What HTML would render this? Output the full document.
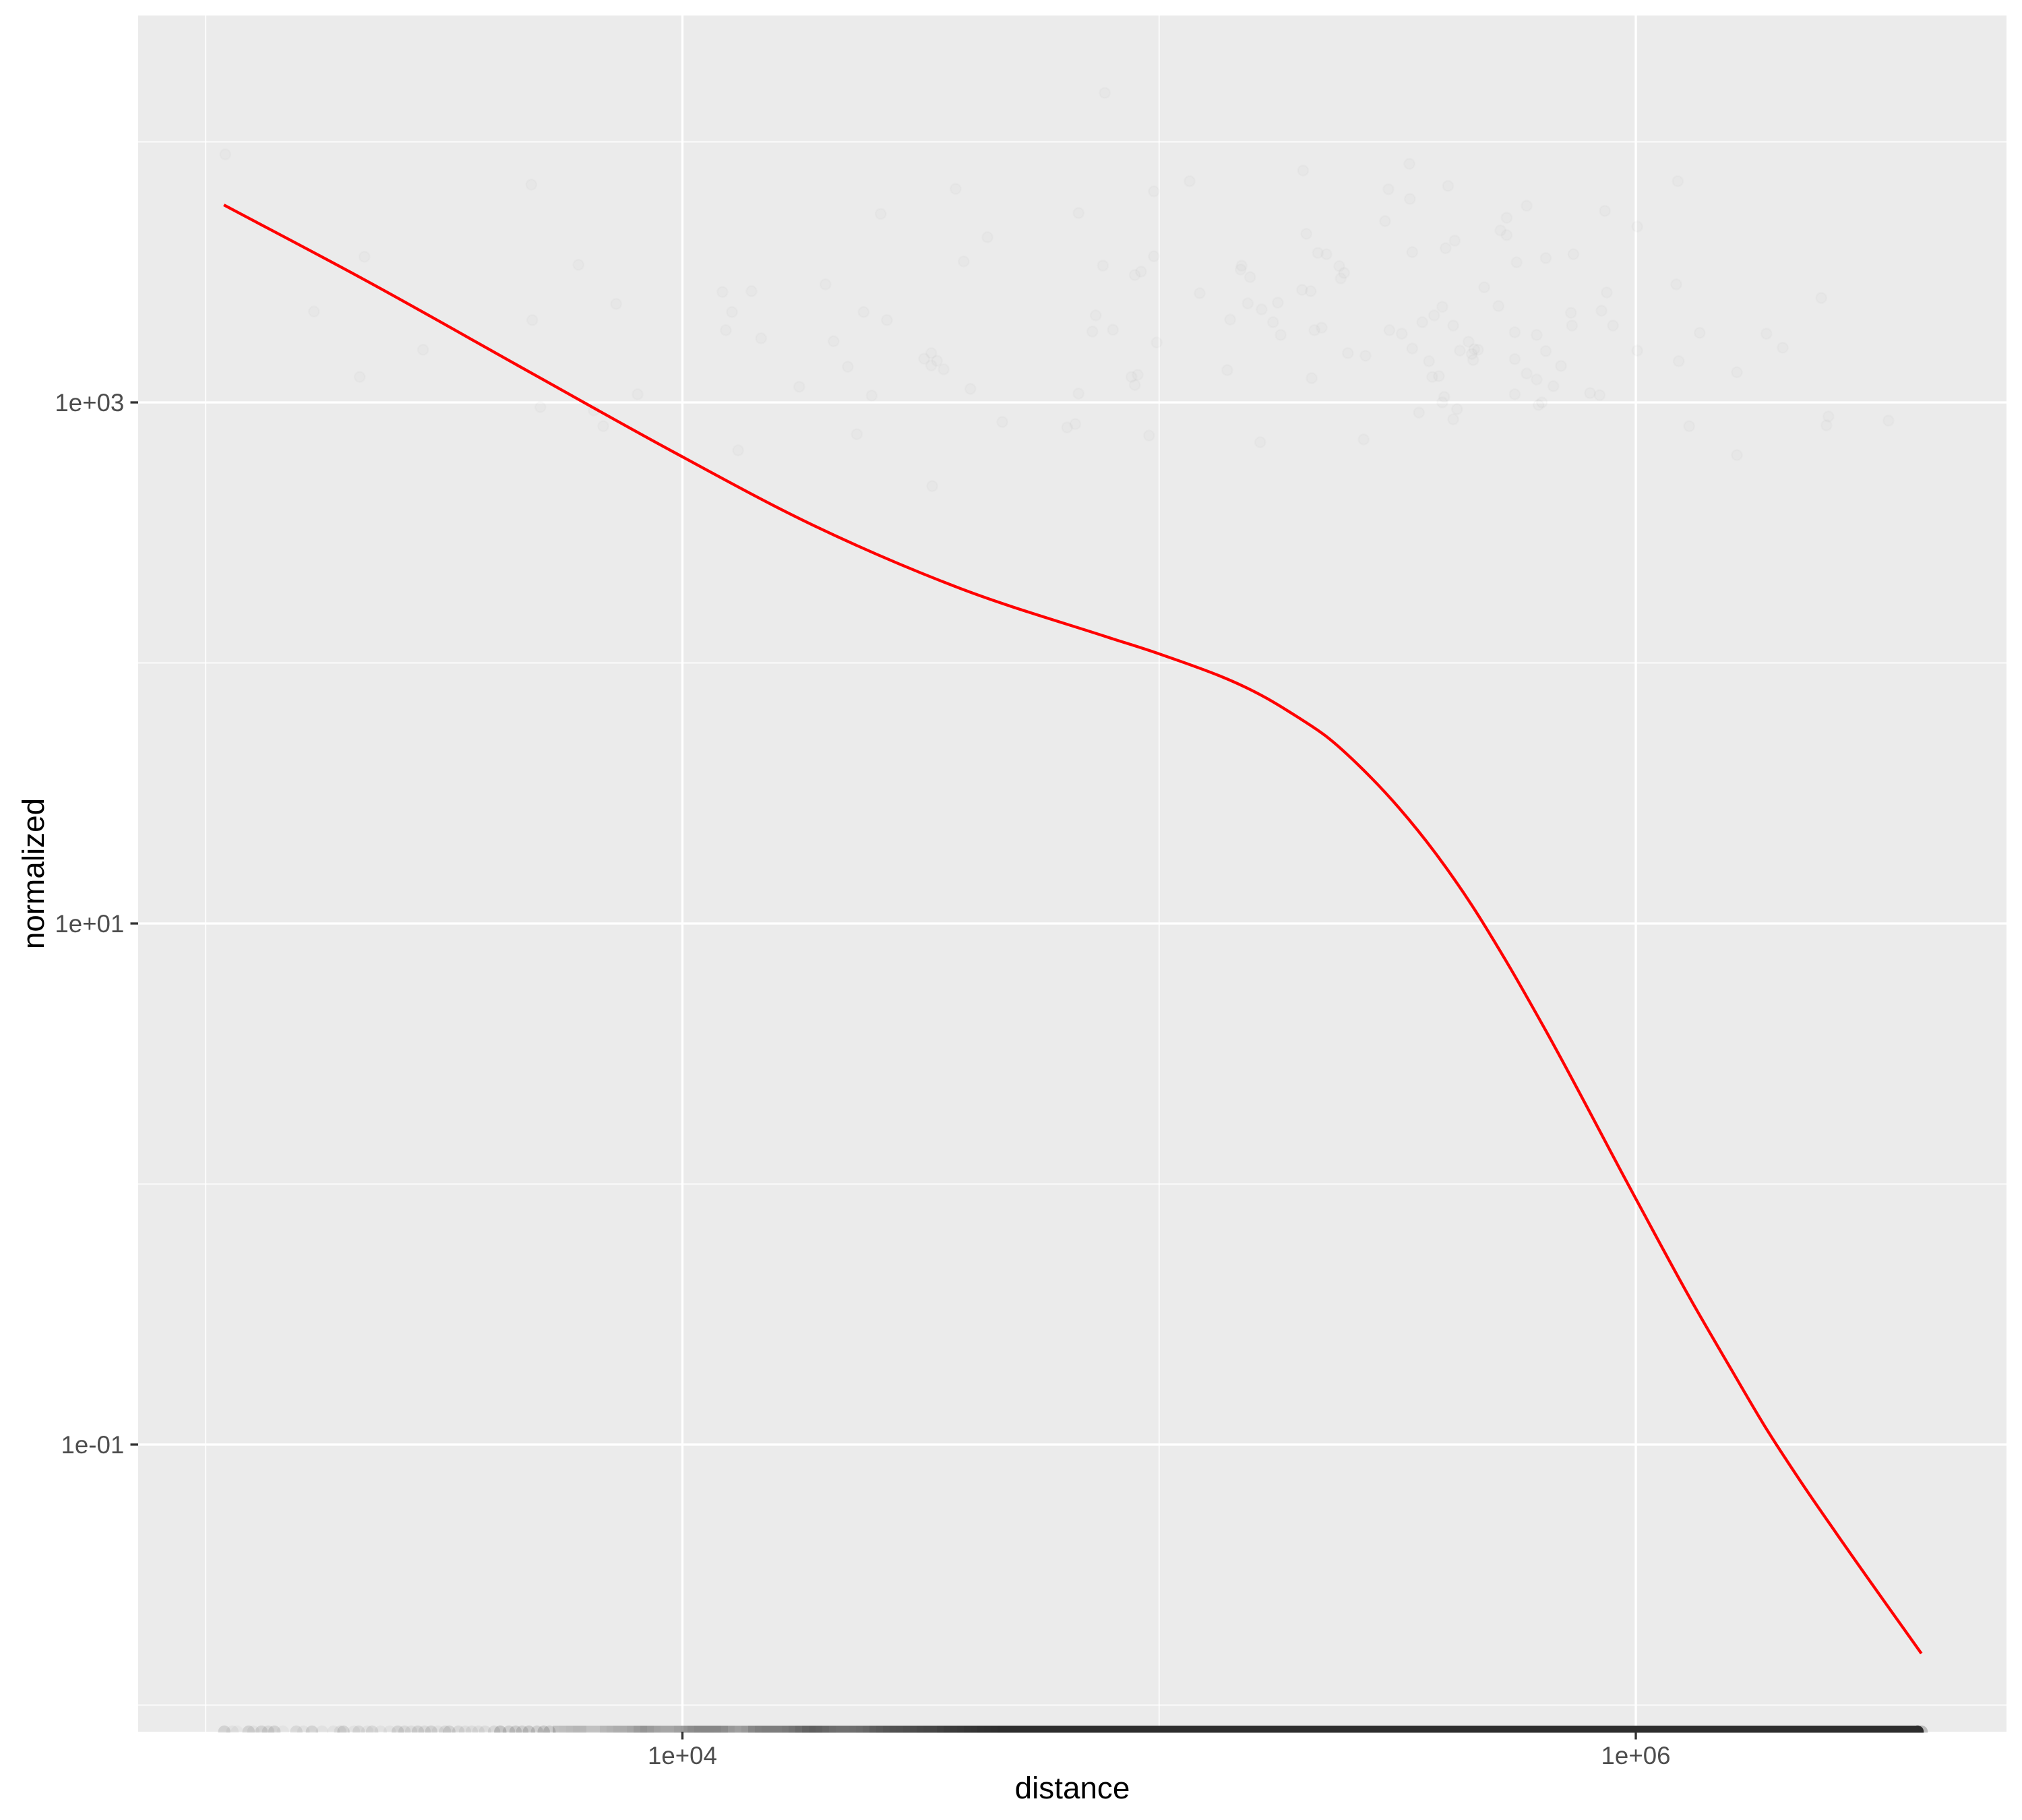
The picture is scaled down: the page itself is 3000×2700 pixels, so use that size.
<!DOCTYPE html>
<html lang="en">
<head>
<meta charset="utf-8">
<title>normalized vs distance</title>
<style>
html,body{margin:0;padding:0;background:#fff;}
svg{display:block;}
text{font-family:"Liberation Sans",Arial,sans-serif;}
</style>
</head>
<body>
<svg id="chart" xmlns="http://www.w3.org/2000/svg" width="3000" height="2700" viewBox="0 0 3000 2700">
  <rect x="0" y="0" width="3000" height="2700" fill="#ffffff"/>
  <defs>
    <clipPath id="panel-clip"><rect x="205" y="23" width="2772" height="2547.5"/></clipPath>
  </defs>
  <rect x="205" y="23" width="2772" height="2546" fill="#ebebeb"/>
  <g id="grid"></g>
  <g id="marks" clip-path="url(#panel-clip)"></g>
  <g id="axes"></g>
  <text x="1591" y="2668" text-anchor="middle" font-size="45.83" fill="#000">distance</text>
  <text transform="translate(65 1296) rotate(-90)" text-anchor="middle" font-size="45.83" fill="#000">normalized</text>
</svg>
<script>
// All values are log10 of the data value (the plot uses log10 axes).
const xTickValues = [4, 6];
const xTickLabels = ['1e+04', '1e+06'];
const xMinorValues = [3, 5];
const yTickValues = [3, 1, -1];
const yTickLabels = ['1e+03', '1e+01', '1e-01'];
const yMinorValues = [4, 2, 0, -2];

const scatterDistance = [
3.041,3.683,3.333,3.782,3.861,3.227,3.685,3.456,3.323,3.906,3.702,3.814,3.834,
4.886,5.302,5.064,4.573,4.989,4.416,4.831,4.640,5.309,5.333,5.351,4.590,4.989,4.882,4.962,4.949,5.173,5.171,5.191,5.378,5.388,5.381,
4.300,4.084,4.145,5.085,5.300,5.318,4.104,4.380,4.429,5.186,5.215,5.249,4.867,5.149,5.239,4.091,4.165,4.317,4.860,4.903,5.326,5.341,5.255,4.995,5.396,
4.522,4.507,4.534,4.522,4.548,4.347,5.143,4.942,4.955,4.949,5.320,4.245,4.604,4.397,4.831,4.671,4.824,4.807,4.366,4.979,5.212,4.117,4.524,
5.525,6.088,5.481,5.606,5.526,5.771,5.935,5.474,5.729,5.716,5.729,6.003,5.620,5.601,5.531,5.811,5.869,5.750,5.682,5.939,6.085,6.389,5.594,5.712,5.577,5.864,5.928,
5.552,5.617,5.483,5.509,5.866,5.952,5.746,5.792,6.134,6.274,5.649,5.531,5.631,5.661,5.669,5.811,6.003,6.308,5.433,5.656,5.566,5.659,5.746,6.090,5.843,5.771,6.212,
5.573,5.587,5.792,5.827,5.598,5.746,5.904,5.924,5.594,5.803,5.796,5.625,5.545,5.617,6.112,6.404,6.400,6.530,5.429,6.212
];
const scatterNormalized = [
3.952,3.836,3.559,3.528,3.378,3.349,3.316,3.202,3.098,3.031,2.982,2.969,2.909,
4.188,3.890,3.849,3.820,3.810,3.724,3.727,3.634,3.647,3.574,3.569,3.541,3.561,3.525,3.502,3.489,3.525,3.510,3.481,3.523,3.497,3.476,
3.453,3.424,3.427,3.419,3.432,3.427,3.347,3.347,3.316,3.380,3.357,3.383,3.334,3.318,3.308,3.277,3.246,3.235,3.272,3.279,3.277,3.287,3.259,3.230,3.189,
3.189,3.168,3.160,3.142,3.127,3.137,3.124,3.098,3.106,3.067,3.093,3.060,3.052,3.026,3.034,2.925,2.917,2.904,2.878,2.873,2.847,2.816,2.679,
3.916,3.849,3.818,3.831,3.781,3.755,3.735,3.696,3.709,3.660,3.642,3.675,3.621,3.592,3.577,3.554,3.569,3.538,3.442,3.422,3.453,3.401,3.367,3.370,3.334,3.344,3.352,
3.308,3.295,3.277,3.264,3.295,3.295,3.269,3.259,3.267,3.264,3.233,3.207,3.199,3.204,3.202,3.197,3.199,3.210,3.179,3.186,3.158,3.163,3.166,3.158,3.140,3.111,3.116,
3.098,3.101,3.088,3.062,3.021,3.031,3.036,3.028,3.000,3.000,2.990,2.974,2.961,2.935,2.909,2.946,2.912,2.930,2.858,2.798
];

// Points whose normalized value is zero sit on the panel's lower edge (log10(0) = -Inf).
// Sparse part of that band: individual points.
const zeroDistance = [
3.039,3.056,3.066,3.090,3.100,3.117,3.131,3.144,3.162,3.190,3.205,3.223,3.244,3.268,3.282,3.289,3.311,3.321,3.339,3.349,3.367,3.386,3.403,3.417,3.431,3.445,3.459,3.473,3.487,3.502,3.511,3.530,3.544,3.558,3.572,3.586,3.605,3.618,3.636,3.650,3.664,3.678,3.695,3.709,3.721,
6.591,6.5995
];
const zeroDensity = [
.13,.05,.03,.13,.05,.12,.10,.13,.04,.10,.05,.12,.05,.05,.07,.12,.05,.10,.05,.10,.05,.05,.12,.10,.08,.12,.09,.13,.06,.10,.13,.10,.07,.08,.07,.08,.10,.20,.15,.16,.15,.18,.14,.18,.17,
1,.25
];
// Denser part of the band: overlapping points summarised as distance bins with a darkness share.
const zeroBinDistance = [
3.735,3.749,3.763,3.777,3.791,3.806,3.820,3.834,3.848,3.862,3.876,3.890,3.905,3.919,3.933,3.947,3.961,3.975,3.989,4.004,4.018,4.032,4.046,4.060,4.074,4.088,4.103,4.117,4.131,4.145,4.159,4.173,4.187,4.201,4.216,4.230,4.244,4.258,4.272,4.286,4.300,4.315,4.329,4.343,4.357,4.371,4.385,4.399,4.414,4.428,4.442,4.456,4.470,4.484,4.498,4.513,4.527,4.541,4.555,4.569,4.583,4.597,4.612,4.626,4.640,4.654
];
const zeroBinShade = [
.22,.24,.26,.28,.27,.22,.22,.27,.30,.32,.33,.36,.42,.46,.42,.38,.36,.36,.40,.46,.50,.52,.53,.53,.52,.50,.44,.40,.44,.52,.56,.58,.58,.58,.60,.63,.68,.72,.74,.73,.70,.67,.65,.65,.66,.68,.70,.74,.77,.79,.81,.82,.83,.84,.86,.87,.88,.90,.92,.935,.945,.96,.97,.98,.985,.994
];
const zeroBinHalfWidth = 0.00707;
const zeroSaturatedRange = [4.661, 6.591];

const smoothDistance = [3.038,3.333,3.685,3.982,4.276,4.583,4.890,5.000,5.228,5.289,5.350,5.427,5.504,5.580,5.656,5.733,5.811,5.999,6.116,6.194,6.270,6.346,6.423,6.599];
const smoothNormalized = [3.758,3.471,3.111,2.809,2.527,2.286,2.100,2.035,1.862,1.794,1.719,1.592,1.442,1.269,1.070,0.840,0.589,-0.053,-0.446,-0.692,-0.928,-1.142,-1.347,-1.802];

const NS = 'http://www.w3.org/2000/svg';
const panel = {left: 205, right: 2977, top: 23, bottom: 2569};
const xDomain = [2.8583, 6.7776];
const yDomain = [-2.1022, 4.4851];

function xScale(v) {
  return panel.left + (v - xDomain[0]) / (xDomain[1] - xDomain[0]) * (panel.right - panel.left);
}
function yScale(v) {
  return panel.bottom - (v - yDomain[0]) / (yDomain[1] - yDomain[0]) * (panel.bottom - panel.top);
}
function make(tag, parent, attrs) {
  const el = document.createElementNS(NS, tag);
  for (const k in attrs) el.setAttribute(k, attrs[k]);
  parent.appendChild(el);
  return el;
}

const grid = document.getElementById('grid');
const marks = document.getElementById('marks');
const axes = document.getElementById('axes');

yMinorValues.forEach(function (v) {
  const y = yScale(v);
  const el = make('line', grid, {x1: panel.left, x2: panel.right, y1: y, y2: y, stroke: '#fff', 'stroke-width': 1.67});
  
  
});
xMinorValues.forEach(function (v) {
  const x = xScale(v);
  const el = make('line', grid, {x1: x, x2: x, y1: panel.top, y2: panel.bottom, stroke: '#fff', 'stroke-width': 1.67});
  
  
});
yTickValues.forEach(function (v) {
  const y = yScale(v);
  const el = make('line', grid, {x1: panel.left, x2: panel.right, y1: y, y2: y, stroke: '#fff', 'stroke-width': 3.34});
  
  
});
xTickValues.forEach(function (v) {
  const x = xScale(v);
  const el = make('line', grid, {x1: x, x2: x, y1: panel.top, y2: panel.bottom, stroke: '#fff', 'stroke-width': 3.34});
  
  
});

scatterDistance.forEach(function (d, i) {
  const el = make('circle', marks, {
    cx: xScale(d).toFixed(1), cy: yScale(scatterNormalized[i]).toFixed(1), r: 7.6,
    fill: '#000', 'fill-opacity': 0.014, stroke: '#000', 'stroke-opacity': 0.014, 'stroke-width': 2.5
  });
  
  
});

zeroDistance.forEach(function (d, i) {
  const el = make('circle', marks, {
    cx: xScale(d).toFixed(1), cy: panel.bottom, r: 9.2, fill: '#2d2d2d', 'fill-opacity': zeroDensity[i]
  });
  
  
});

zeroBinDistance.forEach(function (d, i) {
  const x0 = Math.round(xScale(d - zeroBinHalfWidth));
  const next = i + 1 < zeroBinDistance.length ? zeroBinDistance[i + 1] - zeroBinHalfWidth : d + zeroBinHalfWidth;
  const x1 = Math.round(xScale(next));
  const el = make('rect', marks, {
    x: x0, y: 2560, width: x1 - x0, height: 10.5, fill: '#2d2d2d', 'fill-opacity': zeroBinShade[i]
  });
  
  
});

const saturatedBand = make('line', marks, {
  x1: Math.round(xScale(zeroSaturatedRange[0])), x2: xScale(zeroSaturatedRange[1]).toFixed(1),
  y1: 2565.25, y2: 2565.25, stroke: '#2d2d2d', 'stroke-width': 10.5
});



// Smooth cubic Hermite curve through the read values, in screen coordinates.
const curvePts = smoothDistance.map(function (d, i) {
  return [xScale(d), yScale(smoothNormalized[i])];
});
const n = curvePts.length;
const segH = [];
const segS = [];
for (let i = 0; i < n - 1; i++) {
  segH.push(curvePts[i + 1][0] - curvePts[i][0]);
  segS.push((curvePts[i + 1][1] - curvePts[i][1]) / segH[i]);
}
const tangents = [segS[0]];
for (let i = 1; i < n - 1; i++) {
  tangents.push((segH[i - 1] * segS[i] + segH[i] * segS[i - 1]) / (segH[i - 1] + segH[i]));
}
tangents.push(segS[n - 2]);
let curvePath = 'M' + curvePts[0][0].toFixed(1) + ' ' + curvePts[0][1].toFixed(1);
for (let i = 0; i < n - 1; i++) {
  const h = segH[i] / 3;
  curvePath += 'C' + (curvePts[i][0] + h).toFixed(1) + ' ' + (curvePts[i][1] + tangents[i] * h).toFixed(1) + ' ' +
    (curvePts[i + 1][0] - h).toFixed(1) + ' ' + (curvePts[i + 1][1] - tangents[i + 1] * h).toFixed(1) + ' ' +
    curvePts[i + 1][0].toFixed(1) + ' ' + curvePts[i + 1][1].toFixed(1);
}
const curve = make('path', marks, {d: curvePath, fill: 'none', stroke: '#ff0000', 'stroke-width': 4.3});



xTickValues.forEach(function (v, i) {
  const x = xScale(v);
  const tick = make('line', axes, {x1: x, x2: x, y1: panel.bottom, y2: panel.bottom + 11.5, stroke: '#333333', 'stroke-width': 3.34});
  
  
  const label = make('text', axes, {x: x, y: 2617, 'text-anchor': 'middle', 'font-size': 36.67, fill: '#4d4d4d'});
  label.textContent = xTickLabels[i];
  
  
});
yTickValues.forEach(function (v, i) {
  const y = yScale(v);
  const tick = make('line', axes, {x1: panel.left - 11.5, x2: panel.left, y1: y, y2: y, stroke: '#333333', 'stroke-width': 3.34});
  
  
  const label = make('text', axes, {x: 184.3, y: y + 13, 'text-anchor': 'end', 'font-size': 36.67, fill: '#4d4d4d'});
  label.textContent = yTickLabels[i];
  
  
});
</script>
</body>
</html>
